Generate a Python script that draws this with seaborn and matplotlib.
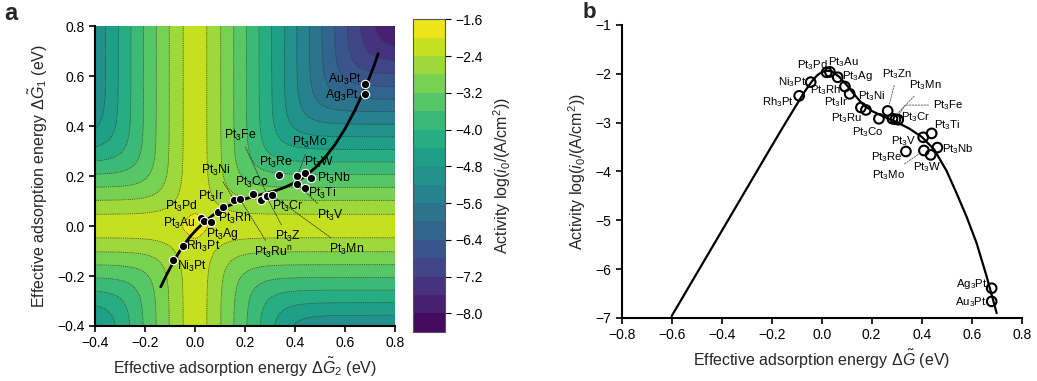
import re

import matplotlib
matplotlib.use("Agg")
import matplotlib.pyplot as plt
import numpy as np
import pandas as pd
import seaborn as sns

sns.set_theme(style="ticks")
plt.rcParams["font.family"] = ["Liberation Sans", "DejaVu Sans"]
plt.rcParams["mathtext.fontset"] = "custom"
plt.rcParams["mathtext.rm"] = "Liberation Sans"
plt.rcParams["mathtext.it"] = "Liberation Sans:italic"
plt.rcParams["mathtext.bf"] = "Liberation Sans:bold"
plt.rcParams["axes.unicode_minus"] = True

# ---------------- data: panel a (two-descriptor map) ----------------
names = ["Ni3Pt", "Rh3Pt", "Pt3Pd", "Pt3Au", "Pt3Ag", "Pt3Rh", "Pt3Ir", "Pt3Ni",
         "Pt3Ru", "Pt3Co", "Pt3Cr", "Pt3Zn", "Pt3Fe", "Pt3Mn", "Pt3Re", "Pt3Mo",
         "Pt3W", "Pt3Nb", "Pt3V", "Pt3Ti", "Ag3Pt", "Au3Pt"]
g2_a = [-0.087, -0.046, 0.024, 0.035, 0.066, 0.093, 0.113, 0.157, 0.180, 0.231, 0.264,
        0.284, 0.290, 0.308, 0.337, 0.409, 0.440, 0.463, 0.409, 0.440, 0.680, 0.680]
g1_a = [-0.136, -0.080, 0.034, 0.019, 0.018, 0.058, 0.075, 0.104, 0.108, 0.127, 0.104,
        0.121, 0.122, 0.123, 0.204, 0.201, 0.211, 0.191, 0.167, 0.153, 0.528, 0.568]

# fitted trend line through the alloys
curve_a_x = [-0.137, -0.11, -0.08, -0.05, -0.02, 0.01, 0.04, 0.07, 0.10, 0.13, 0.16,
             0.20, 0.24, 0.28, 0.32, 0.36, 0.40, 0.44, 0.48, 0.52, 0.56, 0.60, 0.64,
             0.68, 0.71, 0.733]
curve_a_y = [-0.243, -0.188, -0.132, -0.083, -0.043, -0.010, 0.018, 0.042, 0.062, 0.079,
             0.093, 0.108, 0.120, 0.130, 0.141, 0.155, 0.174, 0.199, 0.232, 0.274, 0.326,
             0.389, 0.464, 0.551, 0.625, 0.690]

# activity surface model (log i0 vs the two adsorption energies)
ACT_MAX = -1.93
SLOPE = 8.0
SMOOTH = 0.035
levels = np.round(np.arange(-8.4, -1.59, 0.4), 2)
cbar_ticks = [-1.6, -2.4, -3.2, -4.0, -4.8, -5.6, -6.4, -7.2, -8.0]

# ---------------- data: panel b (volcano) ----------------
x_b = [-0.044, -0.09, 0.020, 0.033, 0.064, 0.093, 0.112, 0.177, 0.157, 0.229, 0.306,
       0.264, 0.295, 0.283, 0.337, 0.409, 0.436, 0.463, 0.406, 0.440, 0.680, 0.680]
y_b = [-2.17, -2.45, -1.97, -1.96, -2.07, -2.26, -2.41, -2.74, -2.69, -2.92, -2.94,
       -2.76, -2.93, -2.92, -3.59, -3.57, -3.66, -3.51, -3.30, -3.22, -6.39, -6.66]

curve_b_x = [-0.6, -0.5, -0.4, -0.3, -0.2, -0.15, -0.1, -0.07, -0.04, -0.02, 0.0, 0.02,
             0.04, 0.07, 0.10, 0.13, 0.16, 0.20, 0.25, 0.30, 0.35, 0.40, 0.45, 0.50,
             0.54, 0.58, 0.62, 0.66, 0.70]
curve_b_y = [-6.96, -6.09, -5.22, -4.35, -3.48, -3.05, -2.63, -2.38, -2.16, -2.04, -1.965,
             -1.935, -1.95, -2.06, -2.23, -2.42, -2.60, -2.76, -2.88, -2.99, -3.12, -3.29,
             -3.55, -3.99, -4.45, -4.93, -5.47, -6.15, -6.90]


def sub3(s):
    return re.sub("3", "$_3$", s)


# label placement (data coords) and whether a leader line is drawn
lab_a = {
    "Ni3Pt": (-0.012, -0.163, False), "Rh3Pt": (0.034, -0.080, False),
    "Pt3Pd": (-0.053, 0.077, False), "Pt3Au": (-0.062, 0.011, False),
    "Pt3Ag": (0.110, -0.030, False), "Pt3Rh": (0.158, 0.030, False),
    "Pt3Ir": (0.064, 0.117, False), "Pt3Ni": (0.083, 0.224, True),
    "Pt3Ru": (0.313, -0.107, True), "Pt3Co": (0.228, 0.173, False),
    "Pt3Cr": (0.370, 0.080, False), "Pt3Zn": (0.371, -0.043, True),
    "Pt3Fe": (0.180, 0.364, True), "Pt3Mn": (0.608, -0.093, True),
    "Pt3Re": (0.323, 0.253, False), "Pt3Mo": (0.460, 0.333, True),
    "Pt3W": (0.497, 0.253, False), "Pt3Nb": (0.555, 0.192, False),
    "Pt3V": (0.540, 0.044, True), "Pt3Ti": (0.509, 0.130, False),
    "Ag3Pt": (0.589, 0.524, False), "Au3Pt": (0.600, 0.588, False),
}
text_a = {n: sub3(n) for n in names}
text_a["Pt3Zn"] = "Pt$_3$Z"
text_a["Pt3Ru"] = "Pt$_3$Ru$^{\\mathrm{n}}$"

lab_b = {
    "Ni3Pt": (-0.118, -2.17, False), "Rh3Pt": (-0.176, -2.57, False),
    "Pt3Pd": (-0.039, -1.82, False), "Pt3Au": (0.087, -1.77, False),
    "Pt3Ag": (0.141, -2.04, False), "Pt3Rh": (0.018, -2.33, False),
    "Pt3Ir": (0.058, -2.58, False), "Pt3Ni": (0.200, -2.45, False),
    "Pt3Ru": (0.102, -2.91, False), "Pt3Co": (0.183, -3.20, False),
    "Pt3Cr": (0.376, -2.88, False), "Pt3Zn": (0.302, -2.00, True),
    "Pt3Fe": (0.507, -2.64, True), "Pt3Mn": (0.413, -2.23, True),
    "Pt3Re": (0.262, -3.71, False), "Pt3Mo": (0.268, -4.07, True),
    "Pt3W": (0.422, -3.90, False), "Pt3Nb": (0.545, -3.54, False),
    "Pt3V": (0.328, -3.37, False), "Pt3Ti": (0.501, -3.05, False),
    "Ag3Pt": (0.601, -6.30, False), "Au3Pt": (0.598, -6.68, False),
}

df_a = pd.DataFrame({"name": names, "g2": g2_a, "g1": g1_a})
df_b = pd.DataFrame({"name": names, "dg": x_b, "act": y_b})
line_a = pd.DataFrame({"x": curve_a_x, "y": curve_a_y})
line_b = pd.DataFrame({"x": curve_b_x, "y": curve_b_y})

fig = plt.figure(figsize=(10.37, 3.81), dpi=100)
ax_a = fig.add_axes([0.0916, 0.1444, 0.2893, 0.787])
cax = fig.add_axes([0.3986, 0.1294, 0.0305, 0.820])
ax_b = fig.add_axes([0.5995, 0.1654, 0.3857, 0.769])

# ---------------- panel a ----------------
grid = np.linspace(-0.4, 0.8, 481)
X, Y = np.meshgrid(grid, grid)


def step_rate(d):
    return 10 ** (-SLOPE * np.sqrt(d ** 2 + SMOOTH ** 2))


Z = ACT_MAX + np.log10(step_rate(X) + step_rate(Y))

cs = ax_a.contourf(X, Y, Z, levels=levels, cmap="viridis", extend="min")
ax_a.contour(X, Y, Z, levels=levels, colors="#303030", linewidths=0.5,
             linestyles=[(0, (1.5, 1.2))])

sns.lineplot(data=line_a, x="x", y="y", sort=False, estimator=None, color="black",
             lw=2, ax=ax_a, zorder=3)
sns.scatterplot(data=df_a, x="g2", y="g1", color="black", edgecolor="white",
                linewidth=0.8, s=36, ax=ax_a, zorder=4)

for _, r in df_a.iterrows():
    lx, ly, lead = lab_a[r["name"]]
    kw = {}
    if lead:
        kw["arrowprops"] = dict(arrowstyle="-", color="#303030", lw=0.6,
                                linestyle=(0, (1.5, 1.5)), shrinkA=1, shrinkB=3)
    ax_a.annotate(text_a[r["name"]], xy=(r["g2"], r["g1"]), xytext=(lx, ly),
                  ha="center", va="center", fontsize=8.8, color="black", zorder=6, **kw)

ax_a.set_xlim(-0.4, 0.8)
ax_a.set_ylim(-0.4, 0.8)
ax_a.set_xticks(np.round(np.arange(-0.4, 0.81, 0.2), 1))
ax_a.set_yticks(np.round(np.arange(-0.4, 0.81, 0.2), 1))
ax_a.set_xlabel(r"Effective adsorption energy $\Delta\tilde{G}_2$ (eV)", fontsize=11.5, labelpad=4)
ax_a.set_ylabel(r"Effective adsorption energy $\Delta\tilde{G}_1$ (eV)", fontsize=11.5, labelpad=5)
for s in ["top", "right"]:
    ax_a.spines[s].set_visible(False)
for s in ["left", "bottom"]:
    ax_a.spines[s].set_linewidth(1.5)
    ax_a.spines[s].set_color("black")
ax_a.tick_params(direction="out", length=4, width=1.2, labelsize=10, colors="black")

cb = fig.colorbar(cs, cax=cax, ticks=cbar_ticks, extendfrac=0)
cb.ax.set_ylim(-8.4, -1.6)
cb.ax.tick_params(direction="out", length=4, width=0.8, labelsize=10, colors="black")
cb.outline.set_linewidth(0.8)
cb.outline.set_edgecolor("#555555")
cb.set_label(r"Activity log($i_0$/(A/cm$^2$))", fontsize=11.5, labelpad=6)

# ---------------- panel b ----------------
sns.lineplot(data=line_b, x="x", y="y", sort=False, estimator=None, color="black",
             lw=1.6, ax=ax_b, zorder=2)
sns.scatterplot(data=df_b, x="dg", y="act", facecolor="none", edgecolor="black",
                linewidth=1.5, s=48, ax=ax_b, zorder=3)

for _, r in df_b.iterrows():
    lx, ly, lead = lab_b[r["name"]]
    kw = {}
    if lead:
        cstyle = "arc3"
        if r["name"] == "Pt3Fe":
            cstyle = "angle,angleA=0,angleB=55,rad=0"
        kw["arrowprops"] = dict(arrowstyle="-", color="#555555", lw=0.6,
                                linestyle=(0, (2, 1.5)), shrinkA=1, shrinkB=4,
                                connectionstyle=cstyle)
    ax_b.annotate(sub3(r["name"]), xy=(r["dg"], r["act"]), xytext=(lx, ly),
                  ha="center", va="center", fontsize=8.2, color="black", zorder=5, **kw)

ax_b.set_xlim(-0.8, 0.8)
ax_b.set_ylim(-7, -1)
ax_b.set_xticks(np.round(np.arange(-0.8, 0.81, 0.2), 1))
ax_b.set_yticks(np.arange(-7, 0, 1))
ax_b.set_xlabel(r"Effective adsorption energy $\Delta\tilde{G}$ (eV)", fontsize=11.5, labelpad=4)
ax_b.set_ylabel(r"Activity log($i_0$/(A/cm$^2$))", fontsize=11.5, labelpad=5)
for s in ["top", "right"]:
    ax_b.spines[s].set_visible(False)
for s in ["left", "bottom"]:
    ax_b.spines[s].set_linewidth(1.5)
    ax_b.spines[s].set_color("black")
ax_b.tick_params(direction="out", length=4, width=1.2, labelsize=10, colors="black")

fig.text(0.004, 0.995, "a", fontsize=17, fontweight="bold", va="top", ha="left")
fig.text(0.562, 0.995, "b", fontsize=16, fontweight="bold", va="top", ha="left")

fig.savefig("out.png", dpi=100)
